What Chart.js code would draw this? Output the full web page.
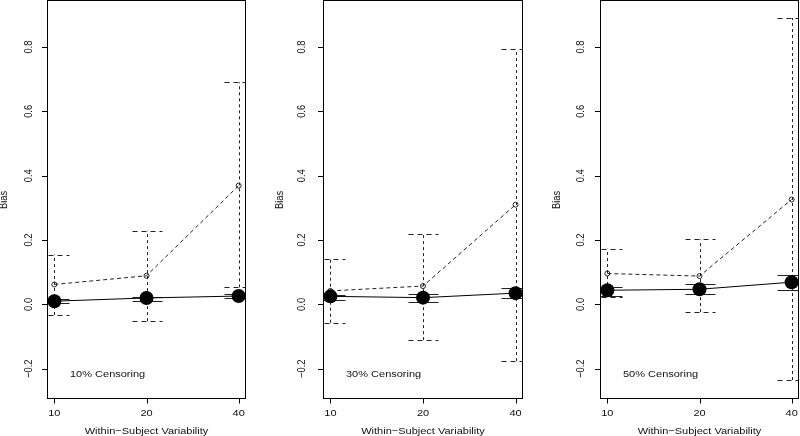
<!DOCTYPE html>
<html>
<head>
<meta charset="utf-8">
<script src="https://cdn.jsdelivr.net/npm/chart.js@4/dist/chart.umd.min.js"></script>
<style>
	html, body { margin: 0; padding: 0; background: #fff; }
	#wrap { position: relative; width: 800px; height: 436px; overflow: hidden; }
	#wrap canvas { position: absolute; left: 0; top: 0; }
</style>
</head>
<body>
<div id="wrap"></div>
<script>
// categories / ticks
const xLabels = ['10', '20', '40'];
const xPos = [0, 1, 2];
const yTickValues = [-0.2, 0, 0.2, 0.4, 0.6, 0.8];
const yTickLabels = ['\u22120.2', '0.0', '0.2', '0.4', '0.6', '0.8'];
const censorLabels = ['10% Censoring', '30% Censoring', '50% Censoring'];
const xTitle = 'Within\u2212Subject Variability';
const yTitle = 'Bias';

// 10% censoring
const solid10 = [0.010, 0.020, 0.026];
const solidLo10 = [0.005, 0.010, 0.021];
const solidHi10 = [0.016, 0.023, 0.033];
const dashed10 = [0.062, 0.089, 0.369];
const dashedLo10 = [-0.033, -0.052, 0.053];
const dashedHi10 = [0.155, 0.229, 0.690];

// 30% censoring
const solid30 = [0.025, 0.021, 0.035];
const solidLo30 = [0.015, 0.008, 0.021];
const solidHi30 = [0.028, 0.031, 0.050];
const dashed30 = [0.042, 0.057, 0.310];
const dashedLo30 = [-0.057, -0.111, -0.176];
const dashedHi30 = [0.141, 0.218, 0.794];

// 50% censoring
const solid50 = [0.044, 0.047, 0.069];
const solidLo50 = [0.027, 0.031, 0.046];
const solidHi50 = [0.055, 0.062, 0.092];
const dashed50 = [0.096, 0.088, 0.326];
const dashedLo50 = [0.023, -0.024, -0.235];
const dashedHi50 = [0.173, 0.202, 0.890];

const panels = [
	{ label: censorLabels[0], solid: solid10, solidLo: solidLo10, solidHi: solidHi10, dashed: dashed10, dashedLo: dashedLo10, dashedHi: dashedHi10, left: 47, right: 246, tickGap: 18 },
	{ label: censorLabels[1], solid: solid30, solidLo: solidLo30, solidHi: solidHi30, dashed: dashed30, dashedLo: dashedLo30, dashedHi: dashedHi30, left: 323, right: 523, tickGap: 21 },
	{ label: censorLabels[2], solid: solid50, solidLo: solidLo50, solidHi: solidHi50, dashed: dashed50, dashedLo: dashedLo50, dashedHi: dashedHi50, left: 600, right: 799, tickGap: 19 },
];

const W = 800, H = 436, BOX_BOTTOM = 399;
const FONT = '11px "Liberation Sans", Arial, sans-serif';
const SQUASH = 0.85; // text looks squeezed vertically in the original

function drawText(ctx, text, x, y, rotate, align) {
	ctx.save();
	ctx.translate(x, y);
	ctx.scale(1, SQUASH);
	if (rotate) ctx.rotate(-Math.PI / 2);
	ctx.textAlign = align || 'center';
	ctx.textBaseline = 'middle';
	ctx.fillText(text, 0, 0);
	ctx.restore();
}

// error bars, box, axes and texts in R style
const rPanel = {
	id: 'rPanel',
	beforeDatasetsDraw(chart) {
		const p = chart.options.plugins.rPanel.panel;
		const ctx = chart.ctx, xs = chart.scales.x, ys = chart.scales.y, area = chart.chartArea;
		ctx.save();
		ctx.beginPath();
		ctx.rect(area.left, area.top, area.right - area.left, area.bottom - area.top);
		ctx.clip();
		ctx.lineWidth = 1;
		const capW = 15;
		xPos.forEach((xv, i) => {
			const x = Math.round(xs.getPixelForValue(xv)) + 0.5;
			// dashed series
			ctx.strokeStyle = '#222';
			ctx.setLineDash([3, 3]);
			const lo = ys.getPixelForValue(p.dashedLo[i]), hi = ys.getPixelForValue(p.dashedHi[i]);
			ctx.beginPath();
			ctx.moveTo(x, lo); ctx.lineTo(x, hi);
			ctx.stroke();
			ctx.setLineDash([5, 4]);
			ctx.beginPath();
			ctx.moveTo(x - capW, Math.round(lo) + 0.5); ctx.lineTo(x + capW, Math.round(lo) + 0.5);
			ctx.moveTo(x - capW, Math.round(hi) + 0.5); ctx.lineTo(x + capW, Math.round(hi) + 0.5);
			ctx.stroke();
			// solid series
			ctx.setLineDash([]);
			ctx.strokeStyle = '#222';
			const slo = ys.getPixelForValue(p.solidLo[i]), shi = ys.getPixelForValue(p.solidHi[i]);
			ctx.beginPath();
			ctx.moveTo(x, slo); ctx.lineTo(x, shi);
			ctx.moveTo(x - capW, Math.round(slo) + 0.5); ctx.lineTo(x + capW, Math.round(slo) + 0.5);
			ctx.moveTo(x - capW, Math.round(shi) + 0.5); ctx.lineTo(x + capW, Math.round(shi) + 0.5);
			ctx.stroke();
		});
		ctx.restore();
	},
	afterDraw(chart) {
		const p = chart.options.plugins.rPanel.panel;
		const ctx = chart.ctx, xs = chart.scales.x, ys = chart.scales.y, area = chart.chartArea;
		ctx.save();
		ctx.strokeStyle = '#000';
		ctx.fillStyle = '#111';
		ctx.lineWidth = 1;
		ctx.setLineDash([]);
		ctx.strokeRect(area.left + 0.5, area.top + 0.5, area.right - area.left - 1, area.bottom - area.top - 1);

		ctx.font = FONT;
		// x axis
		const yb = area.bottom - 0.5;
		ctx.beginPath();
		xPos.forEach((xv) => {
			const x = Math.round(xs.getPixelForValue(xv)) + 0.5;
			ctx.moveTo(x, yb); ctx.lineTo(x, yb + 5);
		});
		ctx.stroke();
		xPos.forEach((xv, i) => {
			drawText(ctx, xLabels[i], xs.getPixelForValue(xv), area.bottom + 14, false);
		});
		drawText(ctx, xTitle, (area.left + area.right) / 2, 431, false);

		// y axis
		ctx.beginPath();
		yTickValues.forEach((v) => {
			const y = Math.round(ys.getPixelForValue(v)) + 0.5;
			ctx.moveTo(area.left - 5, y); ctx.lineTo(area.left + 0.5, y);
		});
		ctx.stroke();
		yTickValues.forEach((v, i) => {
			drawText(ctx, yTickLabels[i], area.left - p.tickGap, ys.getPixelForValue(v), true);
		});
		drawText(ctx, yTitle, area.left - 43, 200, true);

		drawText(ctx, p.label, area.left + 23, 374, false, 'left');
		ctx.restore();
	},
};

const wrap = document.getElementById('wrap');
panels.forEach((p) => {
	const canvas = document.createElement('canvas');
	canvas.width = W;
	canvas.height = H;
	canvas.style.width = W + 'px';
	canvas.style.height = H + 'px';
	wrap.appendChild(canvas);

	new Chart(canvas, {
		type: 'line',
		data: {
			datasets: [
				{
					data: xPos.map((x, i) => ({ x, y: p.solid[i] })),
					borderColor: '#000',
					borderWidth: 1,
					pointRadius: 7,
					pointBackgroundColor: '#000',
					pointBorderColor: '#000',
					pointBorderWidth: 0,
					tension: 0,
				},
				{
					data: xPos.map((x, i) => ({ x, y: p.dashed[i] })),
					borderColor: '#222',
					borderWidth: 1,
					borderDash: [4, 3],
					pointRadius: 2.5,
					pointBackgroundColor: 'rgba(0,0,0,0)',
					pointBorderColor: '#222',
					pointBorderWidth: 1,
					tension: 0,
				},
			],
		},
		options: {
			animation: false,
			responsive: false,
			events: [],
			layout: {
				autoPadding: false,
				padding: { left: p.left, right: W - p.right, top: 0, bottom: H - BOX_BOTTOM },
			},
			scales: {
				x: { type: 'linear', min: -0.08, max: 2.08, display: false },
				y: { type: 'linear', min: -0.294, max: 0.946, display: false },
			},
			plugins: {
				legend: { display: false },
				tooltip: { enabled: false },
				rPanel: { panel: p },
			},
		},
		plugins: [rPanel],
	});
});
</script>
</body>
</html>
